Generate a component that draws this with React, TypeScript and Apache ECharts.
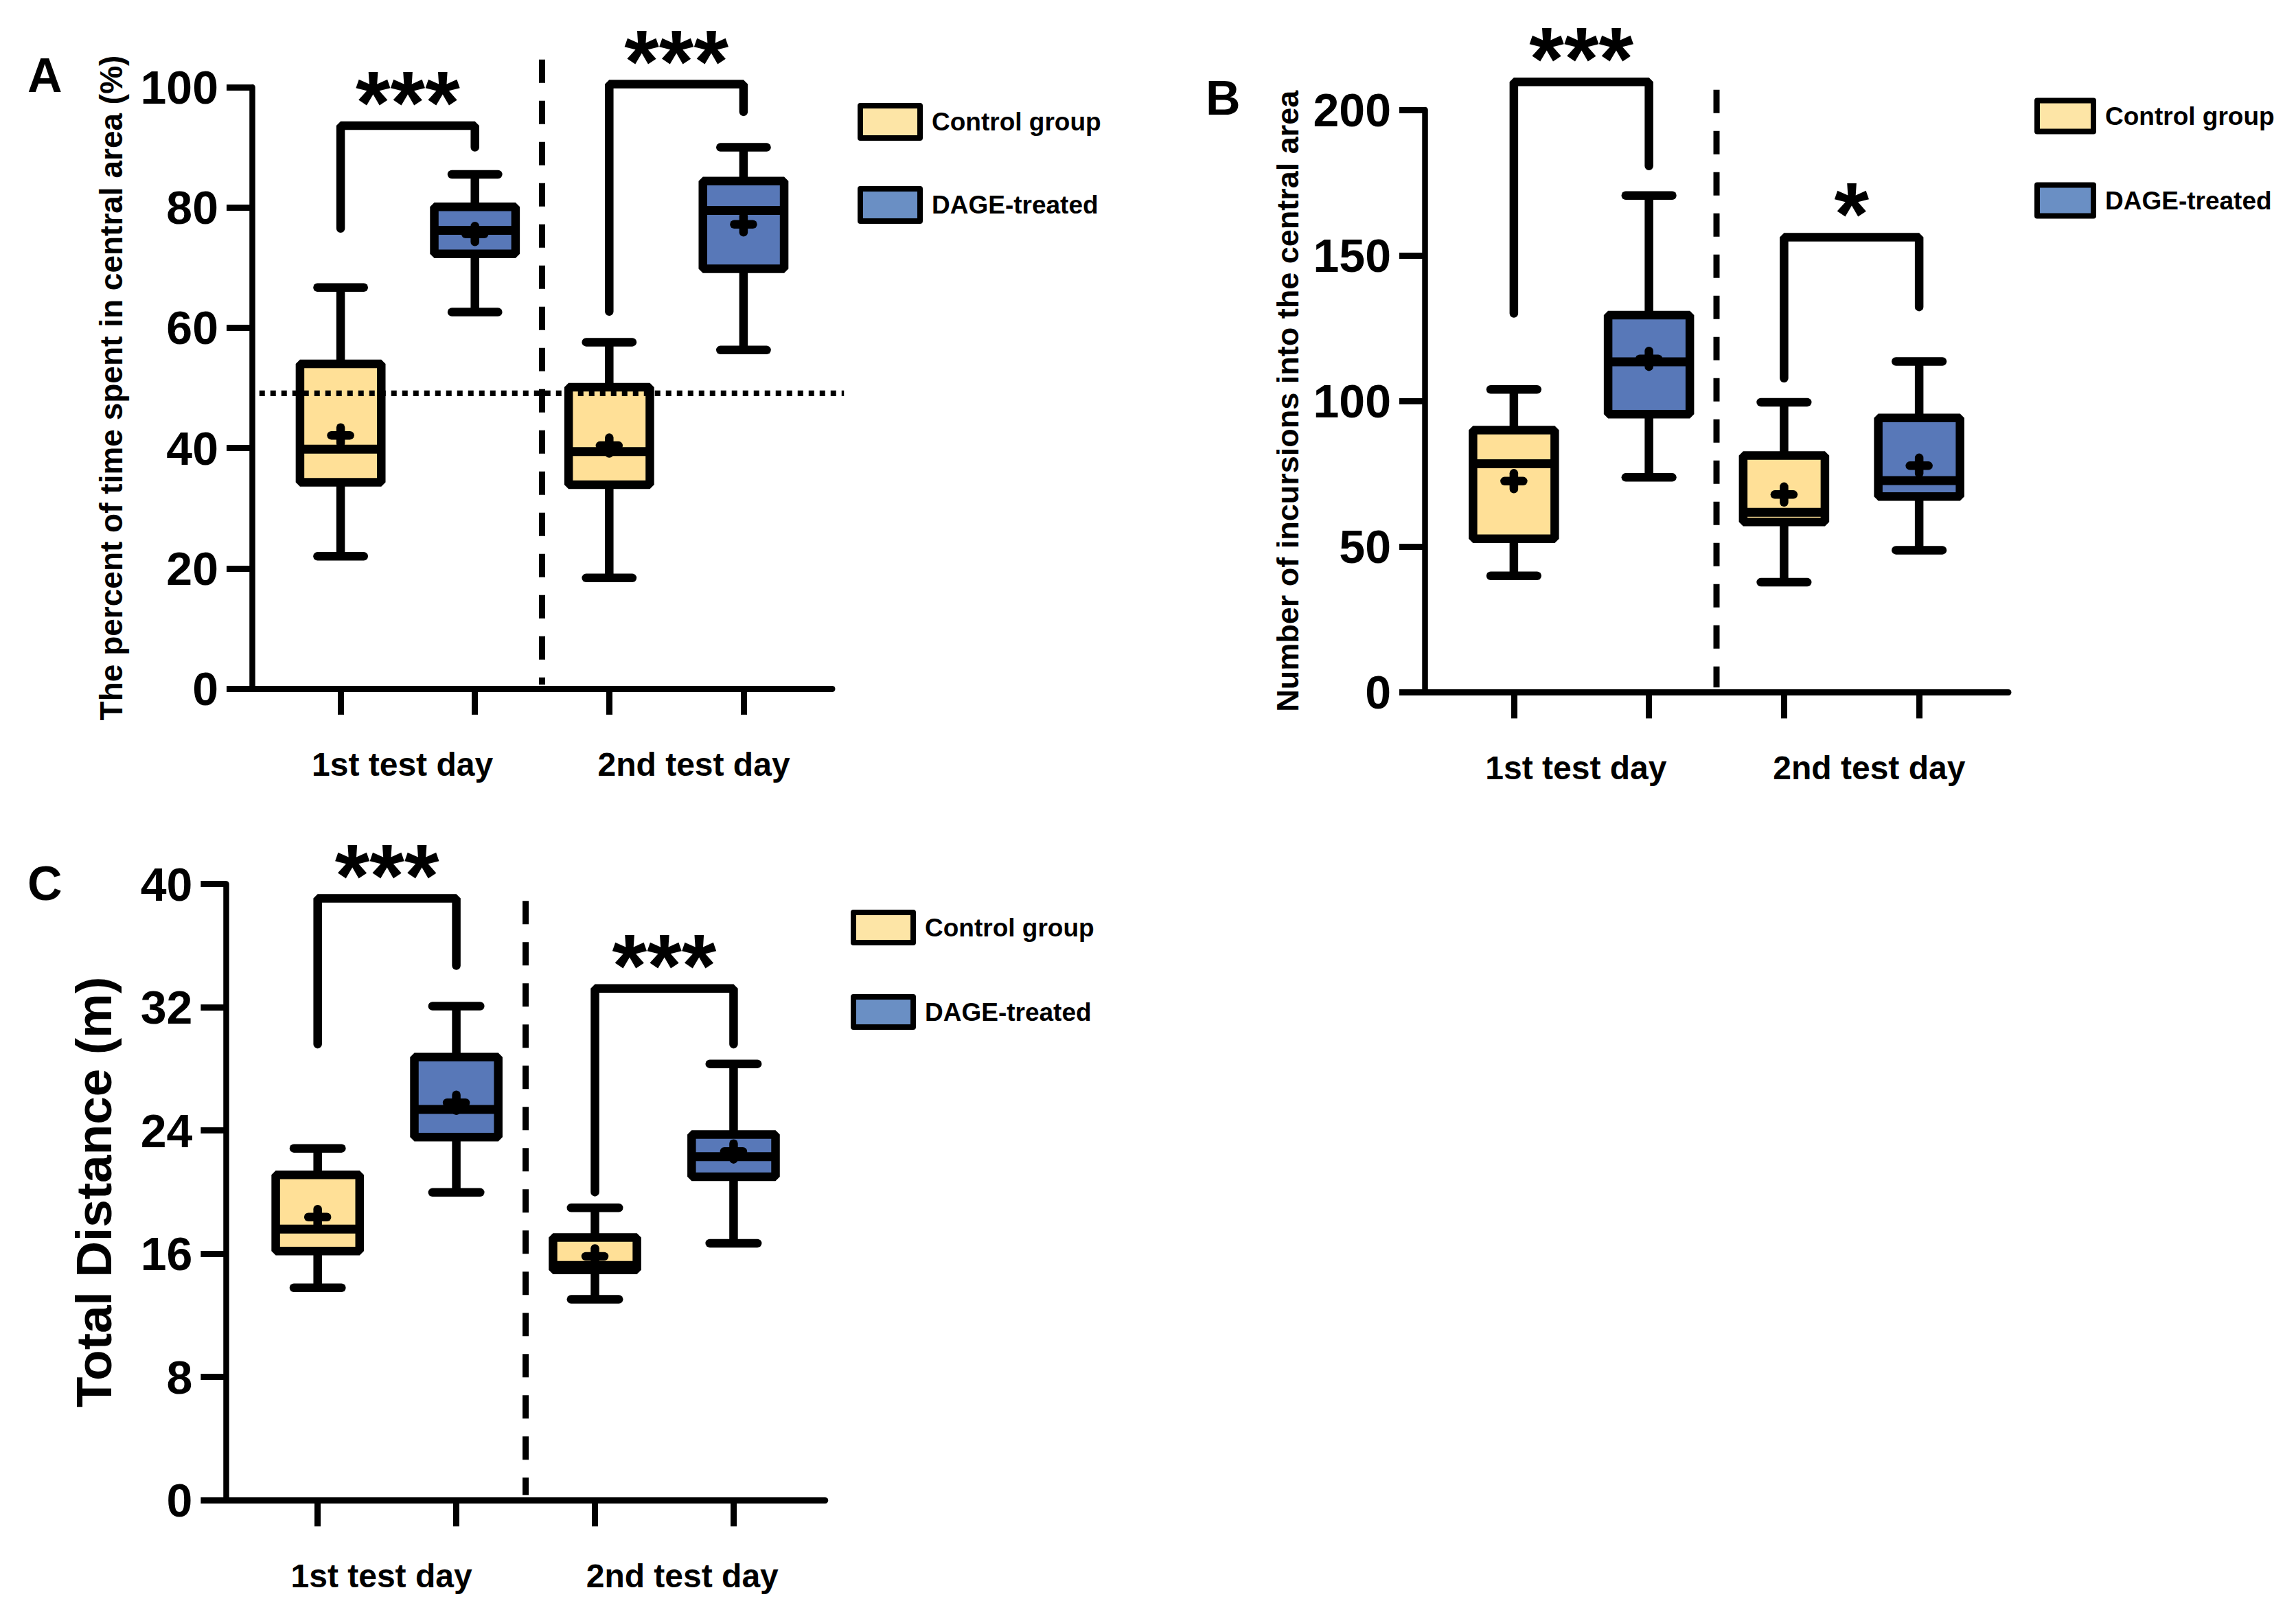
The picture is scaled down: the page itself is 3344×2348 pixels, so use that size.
import { useEffect, useRef } from "react";
import * as echarts from "echarts";

const FONT = "'Liberation Sans', Arial, Helvetica, sans-serif";
const NARROW = "'Liberation Sans Narrow', 'Liberation Sans', Arial, sans-serif";

// ---------- data ----------
const dayLabels = ["1st test day", "2nd test day"];
const groupNames = ["Control group", "DAGE-treated"];

// each row: [min, Q1, median, Q3, max, mean]; rows: 1st test day, 2nd test day
const timeCentralControl = [
  [22.0, 34.3, 39.8, 54.0, 66.7, 42.1],
  [18.4, 33.9, 39.4, 50.1, 57.6, 40.4],
];
const timeCentralDage = [
  [62.6, 72.3, 76.2, 80.1, 85.5, 75.6],
  [56.3, 69.8, 79.5, 84.4, 90.0, 77.2],
];
const timeCentralReference = 49.1;

const incursionsControl = [
  [40.0, 52.7, 78.5, 90.0, 104.0, 72.5],
  [37.8, 58.5, 61.8, 81.3, 99.6, 67.9],
];
const incursionsDage = [
  [73.8, 95.5, 113.5, 129.5, 170.6, 114.5],
  [48.8, 67.2, 72.7, 94.2, 113.6, 77.8],
];

const distanceControl = [
  [13.79, 16.17, 17.6, 21.12, 22.84, 18.38],
  [13.04, 14.95, 15.24, 17.06, 18.98, 15.83],
];
const distanceDage = [
  [19.98, 23.57, 25.36, 28.76, 32.07, 25.8],
  [16.68, 21.0, 22.3, 23.74, 28.32, 22.64],
];

// significance brackets per test day: [left leg end, bracket top, right leg end]
const timeCentralSig = [
  [76.5, 93.6, 90.0],
  [62.7, 100.5, 95.9],
];
const timeCentralStars = ["***", "***"];
const incursionsSig = [
  [130.1, 209.6, 180.7],
  [107.8, 156.3, 132.3],
];
const incursionsStars = ["***", "*"];
const distanceSig = [
  [29.6, 39.06, 34.7],
  [20.0, 33.22, 29.6],
];
const distanceStars = ["***", "***"];

// ---------- styles / layout ----------
const BOX_FILL = ["#FFE097", "#5878B8"];
const LEGEND_FILL = ["#FDE5A6", "#6A8FC4"];
const X_MIN = 0.34;
const X_MAX = 4.66;
const TICK_POS = [1, 2, 3, 4];
const DAY_LABEL_POS = [1.46, 3.63];

const panels = [
  {
    letter: "A",
    letterPos: { left: 40, top: 75 },
    yName: "The percent of time spent in central area (%)",
    yNameSize: 46,
    yNameGap: 182,
    yMax: 100,
    yInterval: 20,
    grid: { left: 367, top: 127, width: 845, height: 876 },
    control: timeCentralControl,
    dage: timeCentralDage,
    sig: timeCentralSig,
    stars: timeCentralStars,
    reference: timeCentralReference,
    referenceSpan: [0.395, 4.748],
    divider: [0.67, 104.6],
    legend: { left: 1249, top: 150, itemWidth: 87, itemHeight: 47, itemGap: 66 },
  },
  {
    letter: "B",
    letterPos: { left: 1756, top: 108 },
    yName: "Number of incursions into the central area",
    yNameSize: 45,
    yNameGap: 177,
    yMax: 200,
    yInterval: 50,
    grid: { left: 2075, top: 160, width: 850, height: 848.4 },
    control: incursionsControl,
    dage: incursionsDage,
    sig: incursionsSig,
    stars: incursionsStars,
    reference: null,
    referenceSpan: null,
    divider: [1.7, 206.9],
    legend: { left: 2963, top: 142.5, itemWidth: 82, itemHeight: 45, itemGap: 70 },
  },
  {
    letter: "C",
    letterPos: { left: 40, top: 1252 },
    yName: "Total Distance (m)",
    yNameSize: 73,
    yNameGap: 156,
    yMax: 40,
    yInterval: 8,
    grid: { left: 329.4, top: 1287.5, width: 872.3, height: 897.8 },
    control: distanceControl,
    dage: distanceDage,
    sig: distanceSig,
    stars: distanceStars,
    reference: null,
    referenceSpan: null,
    divider: [0.34, 38.9],
    legend: { left: 1239, top: 1325, itemWidth: 87, itemHeight: 44, itemGap: 71 },
  },
];

const LW = 12.5;

function blackLine(x1: number, y1: number, x2: number, y2: number, w = LW, cap = "round") {
  return {
    type: "line",
    shape: { x1, y1, x2, y2 },
    style: { stroke: "#000", lineWidth: w, lineCap: cap, fill: null },
  };
}

function renderBox(params: any, api: any) {
  const x = api.value(0);
  const mn = api.value(1);
  const q1 = api.value(2);
  const md = api.value(3);
  const q3 = api.value(4);
  const mx = api.value(5);
  const mean = api.value(6);
  const unit = api.size([1, 0])[0];
  const bw = unit * 0.605;
  const cap = unit * 0.172;
  const cx = api.coord([x, md])[0];
  const yMin = api.coord([x, mn])[1];
  const yQ1 = api.coord([x, q1])[1];
  const yMd = api.coord([x, md])[1];
  const yQ3 = api.coord([x, q3])[1];
  const yMax = api.coord([x, mx])[1];
  const yMean = api.coord([x, mean])[1];
  const fill = api.visual("color");
  return {
    type: "group",
    children: [
      blackLine(cx, yMax, cx, yQ3, LW, "butt"),
      blackLine(cx - cap, yMax, cx + cap, yMax),
      blackLine(cx, yQ1, cx, yMin, LW, "butt"),
      blackLine(cx - cap, yMin, cx + cap, yMin),
      {
        type: "rect",
        shape: { x: cx - bw / 2, y: yQ3, width: bw, height: yQ1 - yQ3 },
        style: { fill, stroke: "#000", lineWidth: LW, lineJoin: "bevel" },
      },
      blackLine(cx - bw / 2, yMd, cx + bw / 2, yMd, 13, "butt"),
      blackLine(cx - 13.5, yMean, cx + 13.5, yMean, LW),
      blackLine(cx, yMean - 11.5, cx, yMean + 11.5, LW),
    ],
  };
}

function makeBracketRenderer(stars: string[]) {
  return (params: any, api: any) => {
    const xl = api.value(0);
    const xr = api.value(1);
    const pl = api.coord([xl, api.value(2)]);
    const pt = api.coord([xl, api.value(3)]);
    const pr = api.coord([xr, api.value(4)]);
    const xR = api.coord([xr, api.value(3)])[0];
    return {
      type: "group",
      children: [
        {
          type: "polyline",
          shape: {
            points: [
              [pl[0], pl[1]],
              [pl[0], pt[1]],
              [xR, pt[1]],
              [pr[0], pr[1]],
            ],
          },
          style: { stroke: "#000", lineWidth: 12.5, lineCap: "round", lineJoin: "bevel", fill: null },
        },
        {
          type: "text",
          x: (pl[0] + xR) / 2,
          y: pt[1] - 33,
          style: {
            text: stars[params.dataIndex],
            fontSize: 130,
            fontWeight: "bold",
            fontFamily: FONT,
            fill: "#000",
            align: "center",
            verticalAlign: "middle",
          },
        },
      ],
    };
  };
}

function renderDivider(params: any, api: any) {
  const top = api.coord([api.value(0), api.value(2)]);
  const bottom = api.coord([api.value(0), api.value(1)]);
  return {
    type: "line",
    shape: { x1: top[0], y1: top[1], x2: bottom[0], y2: bottom[1] },
    style: { stroke: "#000", lineWidth: 9, lineDash: [34, 26], lineCap: "butt", fill: null },
  };
}

function renderReference(params: any, api: any) {
  const a = api.coord([api.value(0), api.value(2)]);
  const b = api.coord([api.value(1), api.value(2)]);
  return {
    type: "line",
    shape: { x1: a[0], y1: a[1], x2: b[0], y2: b[1] },
    style: { stroke: "#000", lineWidth: 8.3, lineDash: [8, 8], lineCap: "butt", fill: null },
  };
}

function buildOption() {
  const grid: any[] = [];
  const xAxis: any[] = [];
  const yAxis: any[] = [];
  const series: any[] = [];
  const legend: any[] = [];
  const title: any[] = [];

  panels.forEach((p, i) => {
    grid.push({ ...p.grid, containLabel: false });
    xAxis.push({
      type: "value",
      gridIndex: i,
      min: X_MIN,
      max: X_MAX,
      splitLine: { show: false },
      axisLine: { show: true, onZero: false, lineStyle: { color: "#000", width: 9 } },
      axisTick: { show: true, customValues: TICK_POS, length: 38, lineStyle: { color: "#000", width: 9 } },
      axisLabel: {
        show: true,
        customValues: DAY_LABEL_POS,
        formatter: (v: number) => (v < 2.5 ? dayLabels[0] : dayLabels[1]),
        fontSize: 48,
        fontWeight: "bold",
        fontFamily: FONT,
        color: "#000",
        margin: 86,
      },
    });
    yAxis.push({
      type: "value",
      gridIndex: i,
      min: 0,
      max: p.yMax,
      interval: p.yInterval,
      splitLine: { show: false },
      axisLine: { show: true, onZero: false, lineStyle: { color: "#000", width: 8.5 } },
      axisTick: { show: true, length: 37, lineStyle: { color: "#000", width: 9 } },
      axisLabel: {
        fontSize: 68,
        fontWeight: "bold",
        fontFamily: FONT,
        color: "#000",
        margin: 49,
      },
      name: p.yName,
      nameLocation: "middle",
      nameRotate: 90,
      nameGap: p.yNameGap,
      nameTextStyle: { fontSize: p.yNameSize, fontWeight: "bold", fontFamily: FONT, color: "#000" },
    });

    series.push({
      type: "custom",
      name: groupNames[0],
      xAxisIndex: i,
      yAxisIndex: i,
      silent: true,
      itemStyle: { color: BOX_FILL[0] },
      encode: { x: 0, y: [1, 2, 3, 4, 5, 6] },
      data: p.control.map((row, d) => [1 + 2 * d, ...row]),
      renderItem: renderBox,
    });
    series.push({
      type: "custom",
      name: groupNames[1],
      xAxisIndex: i,
      yAxisIndex: i,
      silent: true,
      itemStyle: { color: BOX_FILL[1] },
      encode: { x: 0, y: [1, 2, 3, 4, 5, 6] },
      data: p.dage.map((row, d) => [2 + 2 * d, ...row]),
      renderItem: renderBox,
    });
    series.push({
      type: "custom",
      name: "significance",
      xAxisIndex: i,
      yAxisIndex: i,
      silent: true,
      encode: { x: [0, 1], y: [2, 3, 4] },
      data: p.sig.map((s, d) => [1 + 2 * d, 2 + 2 * d, s[0], s[1], s[2]]),
      renderItem: makeBracketRenderer(p.stars),
    });
    series.push({
      type: "custom",
      name: "divider",
      xAxisIndex: i,
      yAxisIndex: i,
      silent: true,
      encode: { x: 0, y: [1, 2] },
      data: [[2.5, p.divider[0], p.divider[1]]],
      renderItem: renderDivider,
    });
    if (p.reference !== null && p.referenceSpan) {
      series.push({
        type: "custom",
        name: "reference",
        xAxisIndex: i,
        yAxisIndex: i,
        silent: true,
        z: 5,
        encode: { x: [0, 1], y: 2 },
        data: [[p.referenceSpan[0], p.referenceSpan[1], p.reference]],
        renderItem: renderReference,
      });
    }

    legend.push({
      orient: "vertical",
      left: p.legend.left,
      top: p.legend.top,
      itemWidth: p.legend.itemWidth,
      itemHeight: p.legend.itemHeight,
      itemGap: p.legend.itemGap,
      icon: "rect",
      selectedMode: false,
      padding: 0,
      data: groupNames.map((n, k) => ({
        name: n,
        itemStyle: { color: LEGEND_FILL[k], borderColor: "#000", borderWidth: 8, borderJoin: "round" },
      })),
      textStyle: {
        fontSize: 37,
        fontWeight: "bold",
        fontFamily: FONT,
        color: "#000",
        padding: [0, 0, 0, 12],
      },
    });

    title.push({
      text: p.letter,
      left: p.letterPos.left,
      top: p.letterPos.top,
      padding: 0,
      textStyle: { fontSize: 70, fontWeight: "bold", fontFamily: NARROW, color: "#000" },
    });
  });

  return {
    animation: false,
    backgroundColor: "#ffffff",
    textStyle: { fontFamily: FONT },
    title,
    legend,
    grid,
    xAxis,
    yAxis,
    series,
  };
}

export default function App() {
  const ref = useRef<HTMLDivElement | null>(null);
  useEffect(() => {
    document.body.style.margin = "0";
    if (!ref.current) return;
    const chart = echarts.init(ref.current, null, { renderer: "svg" });
    chart.setOption(buildOption() as any);
    return () => {
      chart.dispose();
    };
  }, []);
  return <div ref={ref} style={{ width: 3344, height: 2348 }} />;
}
